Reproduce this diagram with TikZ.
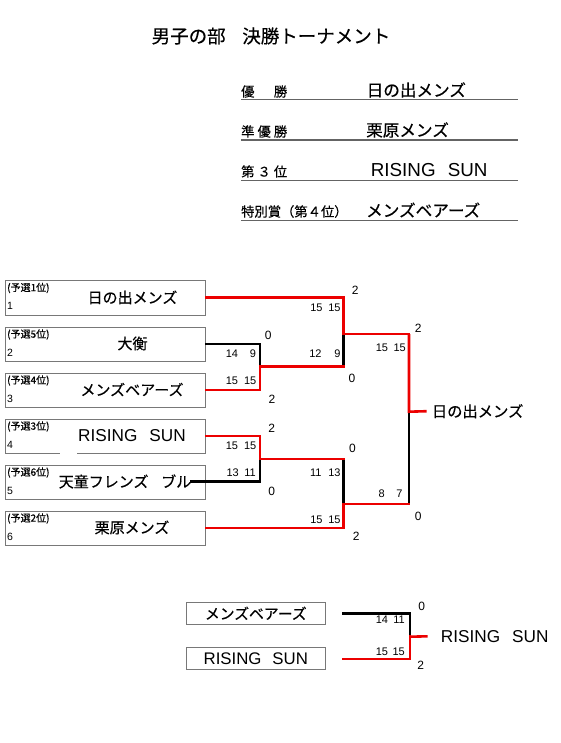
\documentclass[tikz,border=0pt]{standalone}
\usepackage{fontspec}
\setmainfont{Liberation Sans}
\newfontfamily\jp{Noto Sans CJK JP}[FakeBold=0.35]
\definecolor{bred}{RGB}{236,0,0}
\definecolor{boxgray}{RGB}{120,120,120}
\definecolor{linegray}{RGB}{100,100,100}
\newcommand\gpair[6]{%
  \node[gs] (#1a) at (#2,#4) {#5};
  \node[gs] (#1b) at (#3,#4) {#6};}
\begin{document}
\begin{tikzpicture}[x=1pt,y=-1pt,
  tbox/.style={draw=boxgray, line width=0.8pt, minimum width=200pt, minimum height=34.5pt, inner sep=0pt, anchor=north west},
  sbox/.style={draw=boxgray, line width=0.8pt, minimum width=139.7pt, minimum height=22pt, inner sep=0pt},
  tname/.style={font=\fontsize{15}{15}\selectfont\jp, inner sep=0pt},
  rname/.style={font=\fontsize{17.2}{17}\selectfont, inner sep=0pt},
  rk/.style={font=\fontsize{10}{10}\selectfont\jp, inner sep=0pt, anchor=west},
  gs/.style={font=\fontsize{11}{11}\selectfont, inner sep=0pt, anchor=east},
  ss/.style={font=\fontsize{12}{12}\selectfont, inner sep=0pt},
  lab/.style={font=\fontsize{13.3}{13}\selectfont\jp, inner sep=0pt, anchor=west},
  val/.style={font=\fontsize{16.6}{16}\selectfont\jp, inner sep=0pt, anchor=west},
  uline/.style={draw=linegray, line width=1.2pt},
  blk/.style={draw=black, line width=2.6pt, line cap=rect, line join=miter},
  rd/.style={draw=bred, line width=2.6pt, line cap=rect, line join=miter}]
\useasboundingbox (0,0) rectangle (560,743);
\fill[white] (0,0) rectangle (560,743);

% title
\node[font=\fontsize{18.5}{18}\selectfont\jp, inner sep=0pt] (title) at (271,36) {男子の部\hspace{0.9em}決勝トーナメント};

% results table
\node[lab] (l1) at (241,91.5) {\makebox[46pt]{優\hfill 勝}};
\node[lab] (l2) at (241,131.5) {\makebox[46pt]{準\hfill 優\hfill 勝}};
\node[lab] (l3) at (241,171.5) {\makebox[46pt]{第\hfill ３\hfill 位}};
\node[lab] (l4) at (241,211.5) {特別賞（第４位）};
\node[val] (v1) at (366.5,90) {日の出メンズ};
\node[val] (v2) at (366,130) {栗原メンズ};
\node[font=\fontsize{18.8}{18}\selectfont, inner sep=0pt, anchor=west] (v3) at (370.7,170.5) {RISING\hspace{0.65em}SUN};
\node[val] (v4) at (366,210) {メンズベアーズ};
\draw[uline] (241,99.3) -- (518,99.3);
\draw[uline] (241,140) -- (518,140);
\draw[uline] (241,180.7) -- (518,180.7);
\draw[uline] (241,220.7) -- (518,220.7);

% bracket boxes
\node[tbox] (b1) at (5,280) {};
\node[tbox] (b2) at (5,326.5) {};
\node[tbox] (b3) at (5,372.5) {};
\node[tbox] (b4) at (5,418.5) {};
\node[tbox] (b5) at (5,464.5) {};
\node[tbox] (b6) at (5,510.5) {};
\draw[white, line width=1.4pt] (60,453) -- (77,453);

\node[rk] (p1) at (7,288) {(予選1位)};
\node[rk] (p2) at (7,334.5) {(予選5位)};
\node[rk] (p3) at (7,380.5) {(予選4位)};
\node[rk] (p4) at (7,426.5) {(予選3位)};
\node[rk] (p5) at (7,472.5) {(予選6位)};
\node[rk] (p6) at (7,518.5) {(予選2位)};
\node[rk, font=\fontsize{10.5}{10}\selectfont] (k1) at (7,306) {1};
\node[rk, font=\fontsize{10.5}{10}\selectfont] (k2) at (7,352.5) {2};
\node[rk, font=\fontsize{10.5}{10}\selectfont] (k3) at (7,398.5) {3};
\node[rk, font=\fontsize{10.5}{10}\selectfont] (k4) at (7,444.5) {4};
\node[rk, font=\fontsize{10.5}{10}\selectfont] (k5) at (7,490.5) {5};
\node[rk, font=\fontsize{10.5}{10}\selectfont] (k6) at (7,536.5) {6};

\node[tname] (n1) at (132.5,297.5) {日の出メンズ};
\node[tname] (n2) at (132.5,343.5) {大衡};
\node[tname] (n3) at (132,389.5) {メンズベアーズ};
\node[rname] (n4) at (132,435.5) {RISING\hspace{0.7em}SUN};
\node[tname] (n5) at (125,481.5) {天童フレンズ\hspace{0.85em}ブル};
\node[tname] (n6) at (132,527.5) {栗原メンズ};

% junction coordinates
\coordinate (j1) at (260,366.7);
\coordinate (j2) at (260,459);
\coordinate (s1) at (343.3,334);
\coordinate (s2) at (343.3,504);
\coordinate (f) at (409,411.7);

\node[font=\fontsize{15.3}{15}\selectfont\jp, inner sep=0pt, anchor=west] (win) at (431.7,411.2) {日の出メンズ};

% black (losing) lines
\draw[blk] (b2.east) -- (b2.east -| j1) -- (j1);
\draw[blk] (s1) -- (j1 -| s1);
\draw[blk] (n5.east) -- (n5.east -| j2) -- (j2);
\draw[blk] (j2 -| s2) -- (s2);
\draw[blk] (f) -- (s2 -| f);
% red (winning) lines
\draw[rd] (b3.east) -- (b3.east -| j1) -- (j1) -- (j1 -| s1);
\draw[rd] (b1.east) -- (b1.east -| s1) -- (s1) -- (s1 -| f);
\draw[rd] (b4.east) -- (b4.east -| j2) -- (j2) -- (j2 -| s2);
\draw[rd] (b6.east) -- (b6.east -| s2) -- (s2) -- (s2 -| f);
\draw[rd, line cap=butt] (s1 -| f) -- (f) -- ([xshift=-5pt]win.west);

% set scores
\node[ss] (m1t) at (268.3,335.8) {0};
\node[ss] (m1b) at (272,399) {2};
\node[ss] (s1t) at (355.3,290.8) {2};
\node[ss] (s1d) at (352,378.3) {0};
\node[ss] (m2t) at (271.7,428.7) {2};
\node[ss] (m2b) at (271.7,491) {0};
\node[ss] (s2t) at (352.5,448) {0};
\node[ss] (s2d) at (356.2,536.5) {2};
\node[ss] (ft) at (418.3,328.3) {2};
\node[ss] (fb) at (418.3,516) {0};

% game scores
\gpair{m1x}{238.3}{256.3}{354.2}{14}{9}
\gpair{m1y}{238.3}{256.5}{380.8}{15}{15}
\gpair{s1x}{322.7}{340.7}{307.5}{15}{15}
\gpair{s1y}{321.7}{340.7}{353.3}{12}{9}
\gpair{m2x}{238.3}{256.5}{445.8}{15}{15}
\gpair{m2y}{239}{256}{473.2}{13}{11}
\gpair{s2x}{321.7}{340.7}{473.2}{11}{13}
\gpair{s2y}{322.7}{340.7}{519.5}{15}{15}
\gpair{fx}{388.3}{406}{347.8}{15}{15}
\gpair{fy}{385}{402.7}{493.8}{8}{7}

% third place match
\node[sbox] (t1) at (255.8,613.3) {};
\node[sbox] (t2) at (255.8,658.6) {};
\node[tname, font=\fontsize{14.8}{15}\selectfont\jp] (tn1) at (255.8,613.3) {メンズベアーズ};
\node[rname, font=\fontsize{16.8}{17}\selectfont] (tn2) at (255.8,658.6) {RISING\hspace{0.65em}SUN};
\coordinate (ta) at (343.3,613.3);
\coordinate (tb) at (343.3,659);
\coordinate (tj) at (410,636.7);
\node[rname, font=\fontsize{17.2}{17}\selectfont, anchor=west] (tw) at (440.7,636.3) {RISING\hspace{0.7em}SUN};
\draw[blk] (ta) -- (ta -| tj) -- (tj);
\draw[rd] (tb) -- (tb -| tj) -- (tj);
\draw[rd, line cap=butt] (tj) -- ([xshift=-13pt]tw.west);
\node[ss] (tt) at (421.7,606.7) {0};
\node[ss] (tbs) at (420.7,665.8) {2};
\gpair{tx}{388.3}{405}{619.7}{14}{11}
\gpair{ty}{388.3}{405}{652.2}{15}{15}
\end{tikzpicture}
\end{document}
